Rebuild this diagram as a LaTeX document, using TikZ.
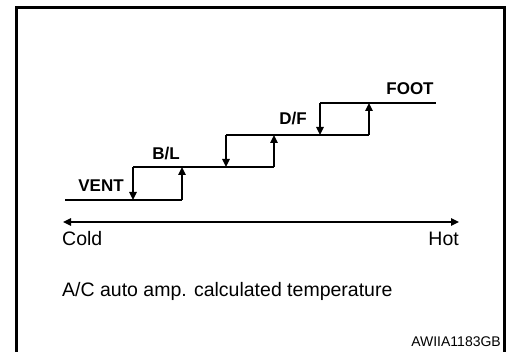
\documentclass[tikz,border=0pt]{standalone}
\usepackage{fontspec}
\setmainfont{Liberation Sans}
\usetikzlibrary{arrows.meta,positioning}
\tikzset{
  frame/.style={line width=3pt},
  lvl/.style={line width=1.6pt},
  sw/.style={line width=1.6pt, -{Triangle[length=8pt,width=7.5pt]}},
  axis/.style={line width=1.3pt, {Triangle[length=8pt,width=7.5pt]}-{Triangle[length=8pt,width=7.5pt]}},
  lbl/.style={font=\fontsize{17}{20}\selectfont\bfseries, inner sep=0pt},
  txt/.style={font=\fontsize{19.5}{22}\selectfont, inner sep=0pt},
  tag/.style={font=\fontsize{14}{16}\selectfont, inner sep=0pt},
}
\begin{document}
\begin{tikzpicture}[x=1pt,y=-1pt]
    \useasboundingbox (0,0) rectangle (507,352);
    % frame, open at the bottom
    \coordinate (fa) at (16,354);
    \coordinate (fb) at (16,8);
    \coordinate (fc) at (504,8);
    \coordinate (fd) at (504,354);
    \draw[frame] (fa) -- (fb) -- (fc) -- (fd);
    % step levels
    \coordinate (s0) at (65,200);  \coordinate (s1) at (182,200);
    \coordinate (t0) at (133,167); \coordinate (t1) at (274,167);
    \coordinate (u0) at (226,135); \coordinate (u1) at (369,135);
    \coordinate (w0) at (320,103); \coordinate (w1) at (436,103);
    \draw[lvl] (s0) -- (s1);
    \draw[lvl] (t0) -- (t1);
    \draw[lvl] (u0) -- (u1);
    \draw[lvl] (w0) -- (w1);
    % switching points
    \draw[sw] (t0) -- (t0 |- s0);
    \draw[sw] (u0) -- (u0 |- t0);
    \draw[sw] (w0) -- (w0 |- u0);
    \draw[sw] (s1) -- (s1 |- t0);
    \draw[sw] (t1) -- (t1 |- u0);
    \draw[sw] (u1) -- (u1 |- w0);
    % mode labels
    \node[lbl, anchor=base] (vent) at (101,192) {VENT};
    \node[lbl, anchor=base] (bl) at (166,160) {B/L};
    \node[lbl, anchor=base] (df) at (293,125) {D/F};
    \node[lbl, anchor=base] (foot) at (410,95) {FOOT};
    % temperature axis
    \coordinate (cold) at (63,222);
    \coordinate (hot) at (459,222);
    \draw[axis] (cold) -- (hot);
    \node[txt, anchor=base west] (coldl) at (62,246) {Cold};
    \node[txt, anchor=base east] (hotl) at (459,246) {Hot};
    \node[txt, anchor=base west] (cap) at (62,297) {A/C auto amp. calculated temperature};
    \node[tag, anchor=base east] (code) at (501,347) {AWIIA1183GB};
\end{tikzpicture}
\end{document}
